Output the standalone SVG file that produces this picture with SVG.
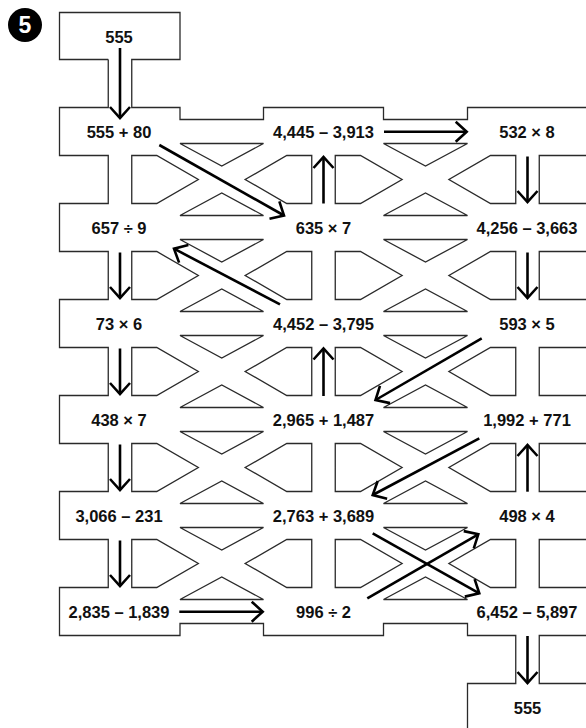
<svg xmlns="http://www.w3.org/2000/svg" xmlns:xlink="http://www.w3.org/1999/xlink" width="586" height="728" viewBox="0 0 586 728">
<style>
.wall{fill:none;stroke:#2a2a2a;stroke-width:1.3;stroke-linejoin:miter}
.lbl{font-family:"Liberation Sans",Arial,Helvetica,sans-serif;font-weight:bold;font-size:16.5px;text-anchor:middle;fill:#111}
.arr{fill:none;stroke:#000;stroke-width:2.6;marker-end:url(#ah)}
</style>
<defs>
<marker id="ah" markerUnits="userSpaceOnUse" viewBox="-15 -15 30 30" markerWidth="30" markerHeight="30" refX="0" refY="0" orient="auto" overflow="visible">
<path d="M-11,-10 L0,0 L-11,10" fill="none" stroke="#000" stroke-width="2.6"/>
</marker>
<g id="gap" class="wall">
<path d="M131.75,-24 H156.75 L198.35,0 L156.75,24 H131.75 Z"/>
<path d="M311.75,-24 H286.75 L245.15,0 L286.75,24 H311.75 Z"/>
<path d="M180,-36 H263.5 L221.75,-13.5 Z"/>
<path d="M180,36 H263.5 L221.75,13.5 Z"/>
<path d="M335.25,-24 H360.5 L402.1,0 L360.5,24 H335.25 Z"/>
<path d="M515.75,-24 H490.5 L448.9,0 L490.5,24 H515.75 Z"/>
<path d="M383.5,-36 H467.5 L425.5,-13.5 Z"/>
<path d="M383.5,36 H467.5 L425.5,13.5 Z"/>
<path d="M539.25,-24 H600 V24 H539.25 Z"/>
</g>
</defs>
<rect width="586" height="728" fill="#fff"/>

<g id="badge">
<circle cx="25" cy="25" r="17" fill="#000"/>
<text x="25" y="33" font-family="Liberation Sans,Arial,sans-serif" font-weight="bold" font-size="23" text-anchor="middle" fill="#fff">5</text>
</g>

<g id="maze">
<path class="wall" d="M108.25,59.5 H59.5 V12.5 H180 V59.5 H131.75 V107.5 H180 V119.5 H263.5 V107.5 H383.5 V119.5 H467.5 V107.5 H600"/>
<path class="wall" d="M108.25,59.5 V107.5 H59.5 V155.5 H108.25 V203.5 H59.5 V251.5 H108.25 V299.5 H59.5 V347.5 H108.25 V395.5 H59.5 V443.5 H108.25 V491.5 H59.5 V539.5 H108.25 V587.5 H59.5 V635.5 H180 V623.5 H263.5 V635.5 H383.5 V623.5 H467.5 V635.5 H515.75 V683.5 H467.5 V740"/>
<path class="wall" d="M600,635.5 H539.25 V683.5 H600"/>
<use xlink:href="#gap" href="#gap" y="179.5"/>
<use xlink:href="#gap" href="#gap" y="275.5"/>
<use xlink:href="#gap" href="#gap" y="371.5"/>
<use xlink:href="#gap" href="#gap" y="467.5"/>
<use xlink:href="#gap" href="#gap" y="563.5"/>
</g>

<g id="node-start"><text class="lbl" x="119" y="42.5">555</text></g>
<g id="node-r1c1"><text class="lbl" x="119" y="138">555 + 80</text></g>
<g id="node-r1c2"><text class="lbl" x="323.5" y="138">4,445 – 3,913</text></g>
<g id="node-r1c3"><text class="lbl" x="527" y="138">532 × 8</text></g>
<g id="node-r2c1"><text class="lbl" x="119" y="234">657 ÷ 9</text></g>
<g id="node-r2c2"><text class="lbl" x="323.5" y="234">635 × 7</text></g>
<g id="node-r2c3"><text class="lbl" x="527" y="234">4,256 – 3,663</text></g>
<g id="node-r3c1"><text class="lbl" x="119" y="330">73 × 6</text></g>
<g id="node-r3c2"><text class="lbl" x="323.5" y="330">4,452 – 3,795</text></g>
<g id="node-r3c3"><text class="lbl" x="527" y="330">593 × 5</text></g>
<g id="node-r4c1"><text class="lbl" x="119" y="426">438 × 7</text></g>
<g id="node-r4c2"><text class="lbl" x="323.5" y="426">2,965 + 1,487</text></g>
<g id="node-r4c3"><text class="lbl" x="527" y="426">1,992 + 771</text></g>
<g id="node-r5c1"><text class="lbl" x="119" y="522">3,066 – 231</text></g>
<g id="node-r5c2"><text class="lbl" x="323.5" y="522">2,763 + 3,689</text></g>
<g id="node-r5c3"><text class="lbl" x="527" y="522">498 × 4</text></g>
<g id="node-r6c1"><text class="lbl" x="119" y="618">2,835 – 1,839</text></g>
<g id="node-r6c2"><text class="lbl" x="323.5" y="618">996 ÷ 2</text></g>
<g id="node-r6c3"><text class="lbl" x="527" y="618">6,452 – 5,897</text></g>
<g id="node-end"><text class="lbl" x="527.5" y="714">555</text></g>

<g id="connectors">
<path class="arr" d="M120,48 V118"/>
<path class="arr" d="M159.3,145 L284,215.5"/>
<path class="arr" d="M323.5,203.5 V157"/>
<path class="arr" d="M384,131.7 H466.7"/>
<path class="arr" d="M527.5,156.5 V202"/>
<path class="arr" d="M527.5,252.5 V298"/>
<path class="arr" d="M481.7,338.3 L375.5,400"/>
<path class="arr" d="M323.5,396 V348.5"/>
<path class="arr" d="M280,304.3 L174,248.7"/>
<path class="arr" d="M120,252.5 V298"/>
<path class="arr" d="M120,348.5 V394"/>
<path class="arr" d="M120,444.5 V490"/>
<path class="arr" d="M120,540.5 V586"/>
<path class="arr" d="M179.3,611.7 H262.7"/>
<path class="arr" d="M367.3,598.3 L478.3,534.3"/>
<path class="arr" d="M527.5,491.7 V445"/>
<path class="arr" d="M479.3,438.3 L372.7,495"/>
<path class="arr" d="M372.7,533.3 L479.3,593.3"/>
<path class="arr" d="M527.5,636 V683"/>
</g>
</svg>
